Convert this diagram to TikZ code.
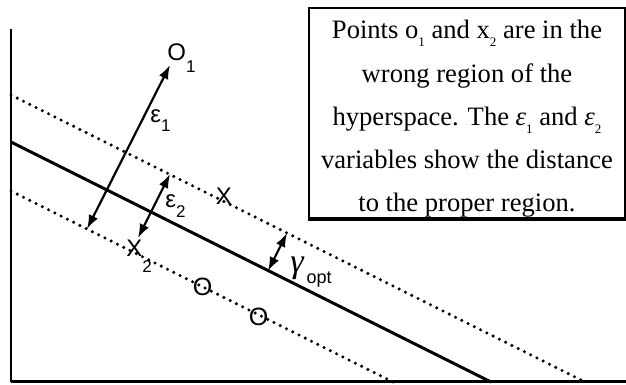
\documentclass[tikz,border=0pt]{standalone}
\usepackage{fontspec}
\setmainfont{Liberation Serif}
\newfontfamily\lsans{Liberation Sans}
\usetikzlibrary{arrows.meta}
\newcommand\boxsub[1]{\raisebox{-4pt}{\fontsize{6.5}{7}\selectfont #1}}
\newcommand\lblsub[2]{\raisebox{-#1}{\fontsize{8.5}{9}\selectfont #2}}
\begin{document}
\begin{tikzpicture}[x=0.5pt,y=-0.5pt,
  axisline/.style={line width=1.3pt},
  hyper/.style={line width=1.5pt},
  marginline/.style={line width=1.7pt, dash pattern=on 0pt off 3.5pt, line cap=round},
  dist/.style={line width=1.1pt, {Latex[length=7pt,width=5pt]}-{Latex[length=7pt,width=5pt]}},
  lbl/.style={font=\lsans\fontsize{12}{13}\selectfont, inner sep=0pt},
  ptlbl/.style={font=\lsans\fontsize{12.5}{13}\selectfont, inner sep=0pt}]
\useasboundingbox (0,0) rectangle (626,385);
% axes
\coordinate (ytop) at (11,29);
\coordinate (orig) at (11,381.5);
\coordinate (xend) at (626,381.5);
\draw[axisline] (ytop) -- (orig);
\draw[line width=1.6pt] (orig) -- (xend);
% hyperplane and margins
\coordinate (hA) at (11,142);
\coordinate (hB) at (491,382);
\coordinate (uA) at (11,95);
\coordinate (uB) at (585,382);
\coordinate (lA) at (11,191);
\coordinate (lB) at (393,382);
\draw[hyper] (hA) -- (hB);
\draw[marginline] (uA) -- (uB);
\draw[marginline] (lA) -- (lB);
% points
\node[lbl, anchor=base west] (o1) at (167,61) {O\lblsub{6pt}{1}};
\node[lbl] (xa) at (224,196) {X};
\node[lbl, anchor=base west] (x2) at (126,256) {X\lblsub{8pt}{2}};
\node[ptlbl] (oa) at (202.5,286.5) {O};
\node[ptlbl] (ob) at (258.5,316.5) {O};
% distance arrows
\coordinate (e1a) at (87,229);
\coordinate (e1b) at (170,65);
\coordinate (e2a) at (138,238);
\coordinate (e2b) at (170,174);
\coordinate (ga) at (268,271);
\coordinate (gb) at (287,233);
\draw[dist] (e1a) -- (e1b);
\draw[dist] (e2a) -- (e2b);
\draw[dist] (ga) -- (gb);
\node[lbl, anchor=base west] (eps1) at (150,122) {ε\lblsub{5pt}{1}};
\node[lbl, anchor=base west] (eps2) at (165,207) {ε\lblsub{5pt}{2}};
\node[inner sep=0pt, anchor=base west] (gam) at (290,272) {\fontsize{17}{18}\selectfont\textit{γ}\hspace{1pt}\raisebox{-5.5pt}{\lsans\fontsize{9}{10}\selectfont opt}};
% text box
\node[draw, line width=1pt, minimum width=158pt, minimum height=105pt, inner sep=0pt] (box) at (467,113) {};
\draw[line width=1.6pt] (box.south west) -- (box.south east);
\node[anchor=base, inner sep=0pt] (note) at (467,39) {\parbox[t]{160pt}{\centering\fontsize{13.3}{21.6}\selectfont
Points o\boxsub{1} and x\boxsub{2} are in the\\
wrong region of the\\
hyperspace. The \textit{ε}\boxsub{1} and \textit{ε}\boxsub{2}\\
variables show the distance\\
to the proper region.}};
\end{tikzpicture}
\end{document}
